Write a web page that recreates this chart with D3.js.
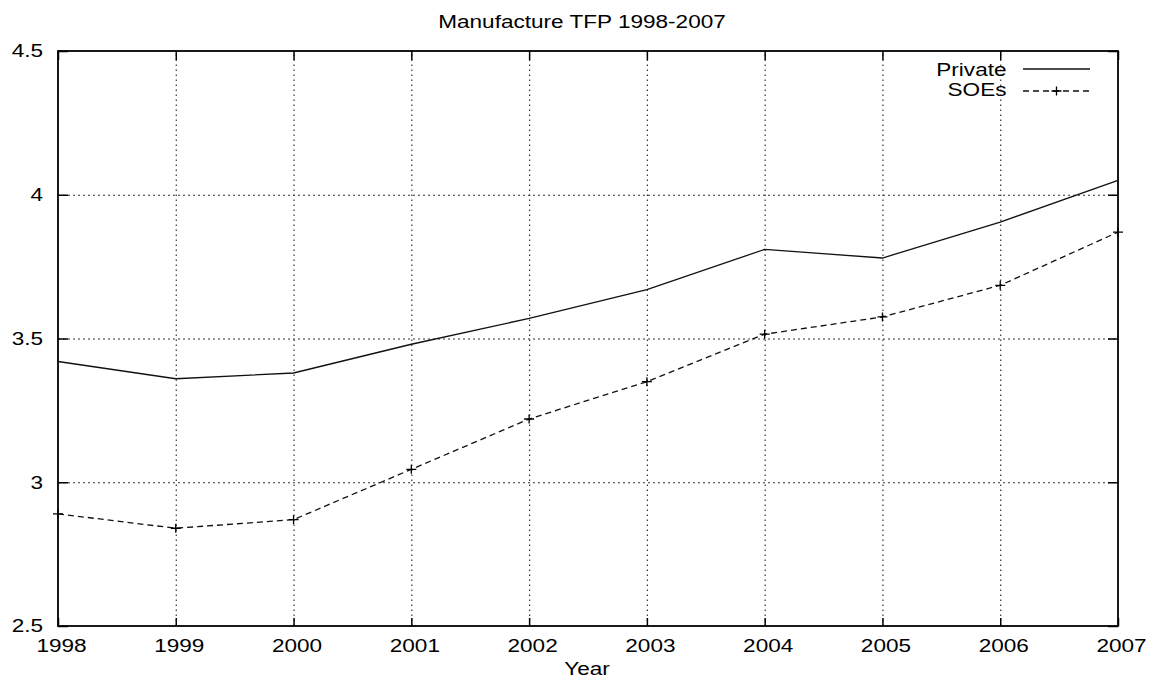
<!DOCTYPE html>
<html>
<head>
<meta charset="utf-8">
<script src="https://cdn.jsdelivr.net/npm/d3@7"></script>
<style>
  html, body { margin: 0; padding: 0; background: #fff; }
  svg { display: block; }
  text { font-family: "Liberation Sans", Arial, Helvetica, sans-serif; fill: #000; }
</style>
</head>
<body>
<svg id="chart" width="1150" height="684"></svg>
<script>
// Manufacture total factor productivity, private firms vs state-owned enterprises
const years = [1998, 1999, 2000, 2001, 2002, 2003, 2004, 2005, 2006, 2007];
const privateTFP = [3.42, 3.36, 3.38, 3.48, 3.57, 3.67, 3.81, 3.78, 3.905, 4.05];
const soeTFP = [2.89, 2.84, 2.87, 3.045, 3.22, 3.35, 3.515, 3.575, 3.685, 3.87];
const yTicks = [2.5, 3, 3.5, 4, 4.5];
const seriesNames = ["Private", "SOEs"];
const titleText = "Manufacture TFP 1998-2007";
const xLabel = "Year";

const FS = 18.5;      // font size
const SX = 1.22;      // horizontal stretch of glyphs
const margin = { left: 58, top: 51, right: 1150 - 1118, bottom: 684 - 626 };
const width = 1150, height = 684;
const w = width - margin.left - margin.right;
const h = height - margin.top - margin.bottom;

const svg = d3.select("#chart");
const g = svg.append("g").attr("transform", `translate(${margin.left},${margin.top})`);

const x = d3.scaleLinear().domain([years[0], years[years.length - 1]]).range([0, w]);
const y = d3.scaleLinear().domain([yTicks[0], yTicks[yTicks.length - 1]]).range([h, 0]);

// dotted grid
const gridX = g.append("g").attr("transform", `translate(0,${h})`)
  .call(d3.axisBottom(x).tickValues(years.slice(1, -1)).tickSize(-h).tickSizeOuter(0).tickFormat(""));
const gridY = g.append("g")
  .call(d3.axisLeft(y).tickValues(yTicks.slice(1, -1)).tickSize(-w).tickSizeOuter(0).tickFormat(""));
[gridX, gridY].forEach(a => {
  a.select(".domain").remove();
  a.selectAll("line").attr("stroke", "#333").attr("stroke-width", 1.2);
});
gridX.selectAll("line").attr("stroke-dasharray", "1.6,3.4");
gridY.selectAll("line").attr("stroke-dasharray", "2,3");

// axes with inward ticks on all four sides
const fmt = d => String(d);
const axBottom = g.append("g").attr("transform", `translate(0,${h})`)
  .call(d3.axisBottom(x).tickValues(years).tickSize(-8).tickSizeOuter(0).tickPadding(13).tickFormat(fmt));
const axTop = g.append("g")
  .call(d3.axisTop(x).tickValues(years).tickSize(-9).tickSizeOuter(0).tickFormat(""));
const axLeft = g.append("g")
  .call(d3.axisLeft(y).tickValues(yTicks).tickSize(-10).tickSizeOuter(0).tickPadding(15).tickFormat(fmt));
const axRight = g.append("g").attr("transform", `translate(${w},0)`)
  .call(d3.axisRight(y).tickValues(yTicks).tickSize(-10).tickSizeOuter(0).tickFormat(""));
[axBottom, axTop, axLeft, axRight].forEach(a => {
  a.select(".domain").remove();
  a.selectAll("line").attr("stroke", "#000").attr("stroke-width", 1.5);
  a.selectAll("text").attr("font-size", FS).attr("font-family", null).attr("fill", "#000");
});
axBottom.selectAll("text").attr("transform", `scale(${SX},1)`).attr("x", 3 / SX);
axLeft.selectAll("text").attr("transform", `scale(${SX},1)`).attr("x", -15 / SX);

// plot frame
g.append("rect").attr("width", w).attr("height", h)
  .attr("fill", "none").attr("stroke", "#000").attr("stroke-width", 1.8);

// series lines
const line = d3.line().x((d, i) => x(years[i])).y(d => y(d));
g.append("path").datum(privateTFP).attr("d", line)
  .attr("fill", "none").attr("stroke", "#111").attr("stroke-width", 1.3);
g.append("path").datum(soeTFP).attr("d", line)
  .attr("fill", "none").attr("stroke", "#111").attr("stroke-width", 1.3)
  .attr("stroke-dasharray", "6,4");
const plus = "M-5,0H5M0,-4.5V4.5";
g.selectAll(".soe-pt").data(soeTFP).enter().append("path")
  .attr("class", "soe-pt")
  .attr("transform", (d, i) => `translate(${x(years[i])},${y(d)})`)
  .attr("d", plus).attr("stroke", "#000").attr("stroke-width", 1.3).attr("fill", "none");

// stretched text helper
function label(px, py, str, anchor) {
  svg.append("text")
    .attr("transform", `translate(${px},${py}) scale(${SX},1)`)
    .attr("text-anchor", anchor)
    .attr("font-size", FS)
    .text(str);
}
label(582, 28, titleText, "middle");
label(587, 675, xLabel, "middle");

// legend
const legendRows = [
  { name: seriesNames[0], base: 75.5, ly: 69, dashed: false },
  { name: seriesNames[1], base: 96, ly: 91, dashed: true }
];
legendRows.forEach(r => {
  label(1006.5, r.base, r.name, "end");
  const ln = svg.append("line").attr("x1", 1023).attr("x2", 1090).attr("y1", r.ly).attr("y2", r.ly)
    .attr("stroke", "#111").attr("stroke-width", 1.3);
  if (r.dashed) {
    ln.attr("stroke-dasharray", "6,4");
    svg.append("path").attr("transform", `translate(1056.5,${r.ly})`).attr("d", plus)
      .attr("stroke", "#000").attr("stroke-width", 1.3).attr("fill", "none");
  }
});
</script>
</body>
</html>
